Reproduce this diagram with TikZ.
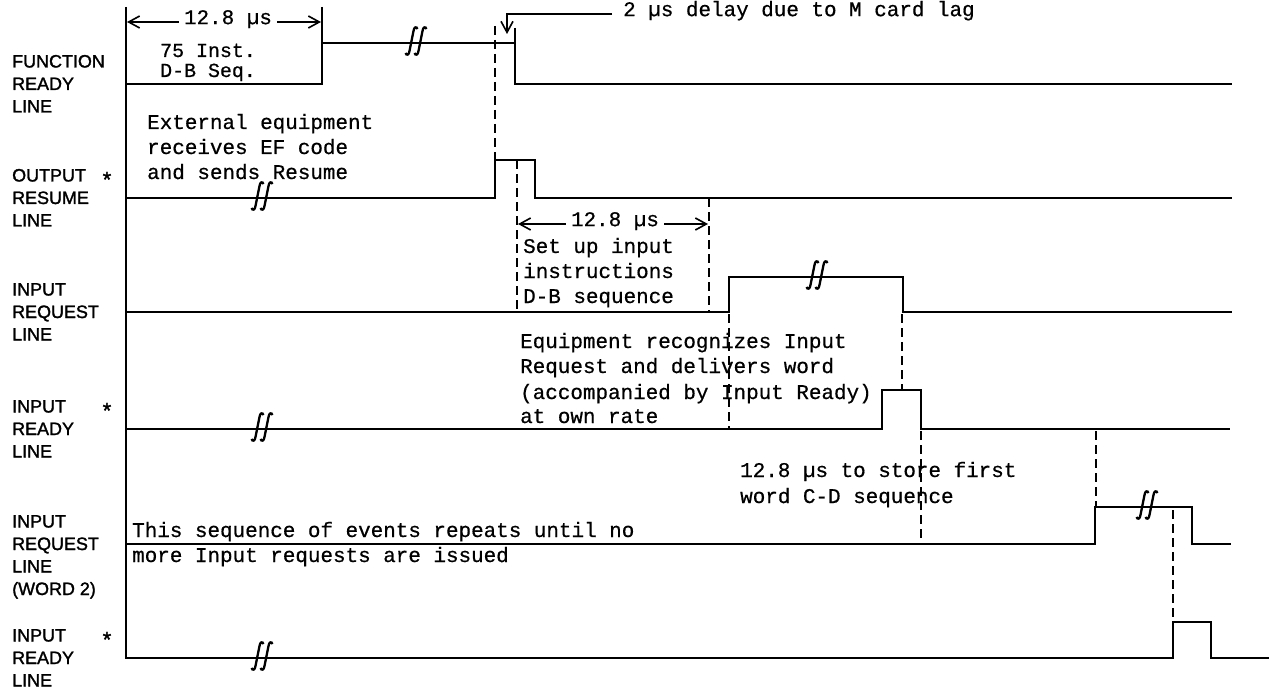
\documentclass[tikz,border=0pt]{standalone}
\usepackage{fontspec}
\newfontfamily\lblfont[FakeBold=1.5]{Liberation Sans}
\newfontfamily\tyfont[FakeBold=0.6]{Liberation Mono}
\usetikzlibrary{arrows.meta}
\begin{document}
\begin{tikzpicture}[x=1bp,y=-1bp,
  wave/.style={line width=1.8bp, line join=miter},
  guide/.style={line width=1.5bp, dash pattern=on 9bp off 5bp},
  lbl/.style={font=\lblfont\fontsize{18}{22.5}\selectfont, anchor=base west, inner sep=0pt},
  star/.style={font=\lblfont\fontsize{22}{22}\selectfont, anchor=base, inner sep=0pt},
  mono/.style={font=\tyfont\fontsize{21}{25}\selectfont, anchor=base west, inner sep=0pt},
  dimlbl/.style={font=\tyfont\fontsize{21}{25}\selectfont, inner ysep=0pt, inner xsep=5bp},
  dim/.style={line width=1.6bp, -{Straight Barb[length=11bp,width=12bp,line width=1.6bp]}},
  brk/.pic={
    \draw[line width=2.3bp, shift={(-4.5,0)}] (6,-14) .. controls (5,-17) and (2.5,-16) .. (2,-12) -- (-2,8) .. controls (-2.5,12) and (-5,13) .. (-6,10);
    \draw[line width=2.3bp, shift={(4.5,0)}] (6,-14) .. controls (5,-17) and (2.5,-16) .. (2,-12) -- (-2,8) .. controls (-2.5,12) and (-5,13) .. (-6,10);
  }]
\useasboundingbox (0,0) rectangle (1269,691);

% left labels
\node[lbl] (a1) at (12,67.5) {FUNCTION};
\node[lbl] (a2) at (12,90) {READY};
\node[lbl] (a3) at (12,112.5) {LINE};
\node[lbl] (b1) at (12,181.5) {OUTPUT};
\node[lbl] (b2) at (12,204) {RESUME};
\node[lbl] (b3) at (12,226.5) {LINE};
\node[star] (bs) at (107,187) {*};
\node[lbl] (c1) at (12,295.5) {INPUT};
\node[lbl] (c2) at (12,318) {REQUEST};
\node[lbl] (c3) at (12,340.5) {LINE};
\node[lbl] (d1) at (12,412.5) {INPUT};
\node[lbl] (d2) at (12,435) {READY};
\node[lbl] (d3) at (12,457.5) {LINE};
\node[star] (ds) at (107,418) {*};
\node[lbl] (e1) at (12,527.5) {INPUT};
\node[lbl] (e2) at (12,550) {REQUEST};
\node[lbl] (e3) at (12,572.5) {LINE};
\node[lbl] (e4) at (12,595) {(WORD 2)};
\node[lbl] (f1) at (12,641.5) {INPUT};
\node[lbl] (f2) at (12,664) {READY};
\node[lbl] (f3) at (12,686.5) {LINE};
\node[star] (fs) at (107,647) {*};

% left reference line
\draw[wave] (126,7) -- (126,659);

% waveforms
\draw[wave] (126,84) -- (322,84) -- (322,43) -- (515,43) -- (515,84) -- (1232,84);
\draw[wave] (322,7) -- (322,43);
\draw[wave] (515,28) -- (515,43);
\draw[wave] (126,198) -- (495,198) -- (495,160) -- (535,160) -- (535,198) -- (1232,198);
\draw[wave] (126,312) -- (729,312) -- (729,277) -- (903,277) -- (903,312) -- (1232,312);
\draw[wave] (126,429) -- (882,429) -- (882,390) -- (921,390) -- (921,429) -- (1230,429);
\draw[wave] (126,544) -- (1095,544) -- (1095,507) -- (1192,507) -- (1192,544) -- (1231,544);
\draw[wave] (126,658) -- (1173,658) -- (1173,622) -- (1211,622) -- (1211,658) -- (1269,658);

% breaks
\pic at (416,43) {brk};
\pic at (262,198) {brk};
\pic at (817,277) {brk};
\pic at (262,429) {brk};
\pic at (1147,507) {brk};
\pic at (262,658) {brk};

% dashed guides
\draw[guide] (495,26) -- (495,160);
\draw[guide] (517,160) -- (517,312);
\draw[guide] (709,198) -- (709,312);
\draw[guide] (729,314) -- (729,429);
\draw[guide] (902,314) -- (902,390);
\draw[guide] (921,431) -- (921,544);
\draw[guide] (1096,431) -- (1096,507);
\draw[guide] (1173,510) -- (1173,622);

% top 12.8 us dimension
\node[dimlbl, anchor=mid] (t1) at (228,22) {12.8 µs};
\coordinate (t1l) at (127,22);
\coordinate (t1r) at (321,22);
\draw[dim] (t1.mid west) -- (t1l);
\draw[dim] (t1.mid east) -- (t1r);
\node[mono, font=\tyfont\fontsize{20}{20}\selectfont] (n75) at (160,57) {75 Inst.};
\node[mono, font=\tyfont\fontsize{20}{20}\selectfont] (ndb) at (160,77) {D-B Seq.};

% 2 us delay
\node[dimlbl, anchor=mid west, inner xsep=11bp] (dl) at (612,14) {2 µs delay due to M card lag};
\coordinate (dla) at (507,14);
\coordinate (dlb) at (507,34);
\draw[dim] (dl.mid west) -- (dla) -- (dlb);

% external equipment
\node[mono] (x1) at (147,129) {External equipment};
\node[mono] (x2) at (147,154) {receives EF code};
\node[mono] (x3) at (147,179) {and sends Resume};

% second 12.8 us
\node[dimlbl, anchor=mid] (t2) at (615,224) {12.8 µs};
\coordinate (t2l) at (518,224);
\coordinate (t2r) at (708,224);
\draw[dim] (t2.mid west) -- (t2l);
\draw[dim] (t2.mid east) -- (t2r);
\node[mono] (s1) at (523,253) {Set up input};
\node[mono] (s2) at (523,278) {instructions};
\node[mono] (s3) at (523,303) {D-B sequence};

% equipment recognizes
\node[mono] (q1) at (520,348) {Equipment recognizes Input};
\node[mono] (q2) at (520,373) {Request and delivers word};
\node[mono] (q3) at (520,399) {(accompanied by Input Ready)};
\node[mono] (q4) at (520,423) {at own rate};

% store first word
\node[mono] (w1) at (740,477) {12.8 µs to store first};
\node[mono] (w2) at (740,503) {word C-D sequence};

% repeat note
\node[mono] (r1) at (132,537) {This sequence of events repeats until no};
\node[mono] (r2) at (132,562) {more Input requests are issued};
\end{tikzpicture}
\end{document}
